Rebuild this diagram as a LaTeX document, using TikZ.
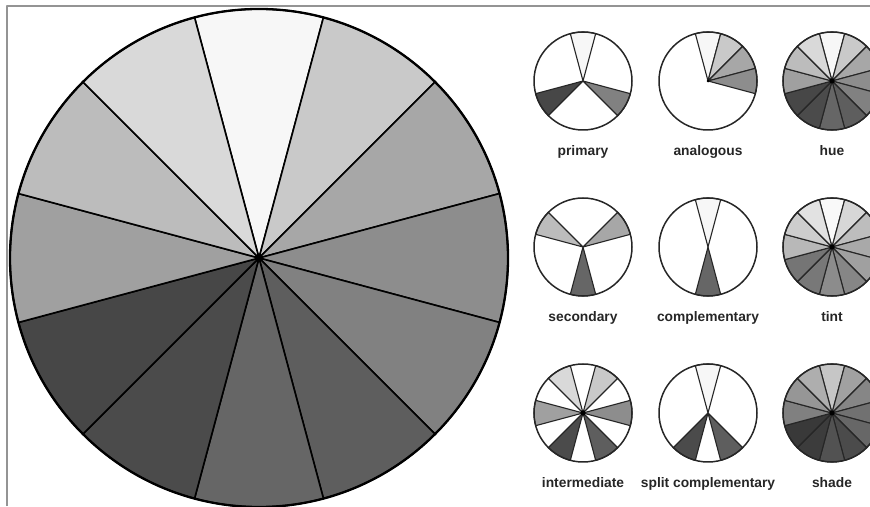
\documentclass[tikz,border=0pt]{standalone}
\usepackage{fontspec}
\setmainfont{Liberation Sans}
\usetikzlibrary{positioning}

% greys of the twelve hue steps, top sector first, then clockwise
\definecolor{hA}{HTML}{F7F7F7}
\definecolor{hB}{HTML}{C9C9C9}
\definecolor{hC}{HTML}{A7A7A7}
\definecolor{hD}{HTML}{8D8D8D}
\definecolor{hE}{HTML}{818181}
\definecolor{hF}{HTML}{5E5E5E}
\definecolor{hG}{HTML}{666666}
\definecolor{hH}{HTML}{4B4B4B}
\definecolor{hI}{HTML}{474747}
\definecolor{hJ}{HTML}{A0A0A0}
\definecolor{hK}{HTML}{BCBCBC}
\definecolor{hL}{HTML}{D9D9D9}

% one 30 degree wedge: style, centre, middle angle, radius
\newcommand{\wheelpart}[4]{\filldraw[#1] (#2) -- ++(#3-15:#4) arc[start angle=#3-15,delta angle=30,radius=#4] -- cycle;}

\begin{document}
\begin{tikzpicture}[x=1pt,y=1pt,line join=round]
  \tikzstyle{frame}=[draw=black!42,line width=2.4pt]
  \tikzstyle{bigpart}=[draw=black,line width=1.6pt]
  \tikzstyle{bigrim}=[draw=black,line width=2.3pt]
  \tikzstyle{part}=[draw=black!85,line width=1.1pt]
  \tikzstyle{rim}=[draw=black!85,line width=1.5pt]
  \tikzstyle{lbl}=[font=\bfseries\fontsize{13.8}{16}\selectfont,text=black!85,inner sep=0pt,anchor=base]
  \useasboundingbox (0,0) rectangle (870,506);
  \clip (0,0) rectangle (870,506);

  % frame of the screenshot
  \coordinate (fbl) at (7,0);
  \coordinate (ftl) at (7,500);
  \coordinate (ftr) at (870,500);
  \draw[frame] (fbl) -- (ftl) -- (ftr);

  % big wheel
  \coordinate (big) at (259,248);
  \foreach \a/\col in {90/hA,60/hB,30/hC,0/hD,-30/hE,-60/hF,-90/hG,-120/hH,-150/hI,180/hJ,150/hK,120/hL}
    {\wheelpart{bigpart,fill=\col}{big}{\a}{249pt}}
  \draw[bigrim] (big) circle[radius=249pt];
  \fill (big) circle[radius=3.5pt];

  % small wheels
  \coordinate (prim) at (583,425);
  \coordinate (anal) at (708,425);
  \coordinate (hue) at (832,425);
  \coordinate (sec) at (583,259);
  \coordinate (comp) at (708,259);
  \coordinate (tint) at (832,259);
  \coordinate (inter) at (583,93);
  \coordinate (split) at (708,93);
  \coordinate (shade) at (832,93);

  \foreach \w in {prim,anal,sec,comp,inter,split}
    \fill[white] (\w) circle[radius=49pt];

  \foreach \a/\col in {90/hA,60/hB,30/hC,0/hD,-30/hE,-60/hF,-90/hG,-120/hH,-150/hI,180/hJ,150/hK,120/hL} {
    \wheelpart{part,fill=\col}{hue}{\a}{49pt}
    \wheelpart{part,fill=\col!75!white}{tint}{\a}{49pt}
    \wheelpart{part,fill=\col!80!black}{shade}{\a}{49pt}
  }
  \foreach \a/\col in {90/hA,-30/hE,-150/hI}
    {\wheelpart{part,fill=\col}{prim}{\a}{49pt}}
  \foreach \a/\col in {90/hA,60/hB,30/hC,0/hD}
    {\wheelpart{part,fill=\col}{anal}{\a}{49pt}}
  \foreach \a/\col in {150/hK,30/hC,-90/hG}
    {\wheelpart{part,fill=\col}{sec}{\a}{49pt}}
  \foreach \a/\col in {90/hA,-90/hG}
    {\wheelpart{part,fill=\col}{comp}{\a}{49pt}}
  \foreach \a/\col in {120/hL,60/hB,180/hJ,0/hD,-120/hH,-60/hF}
    {\wheelpart{part,fill=\col}{inter}{\a}{49pt}}
  \foreach \a/\col in {90/hA,-120/hH,-60/hF}
    {\wheelpart{part,fill=\col}{split}{\a}{49pt}}

  \foreach \w in {prim,anal,hue,sec,comp,tint,inter,split,shade}
    \draw[rim] (\w) circle[radius=49pt];
  \foreach \w in {hue,tint,shade,inter}
    \fill (\w) circle[radius=2.5pt];
  \fill (anal) circle[radius=1.5pt];

  % labels
  \node[lbl] (primlbl) at ([yshift=-75pt]prim) {primary};
  \node[lbl] (anallbl) at ([yshift=-75pt]anal) {analogous};
  \node[lbl] (huelbl) at ([yshift=-75pt]hue) {hue};
  \node[lbl] (seclbl) at ([yshift=-75pt]sec) {secondary};
  \node[lbl] (complbl) at ([yshift=-75pt]comp) {complementary};
  \node[lbl] (tintlbl) at ([yshift=-75pt]tint) {tint};
  \node[lbl] (interlbl) at ([yshift=-75pt]inter) {intermediate};
  \node[lbl] (splitlbl) at ([yshift=-75pt]split) {split complementary};
  \node[lbl] (shadelbl) at ([yshift=-75pt]shade) {shade};
\end{tikzpicture}
\end{document}
